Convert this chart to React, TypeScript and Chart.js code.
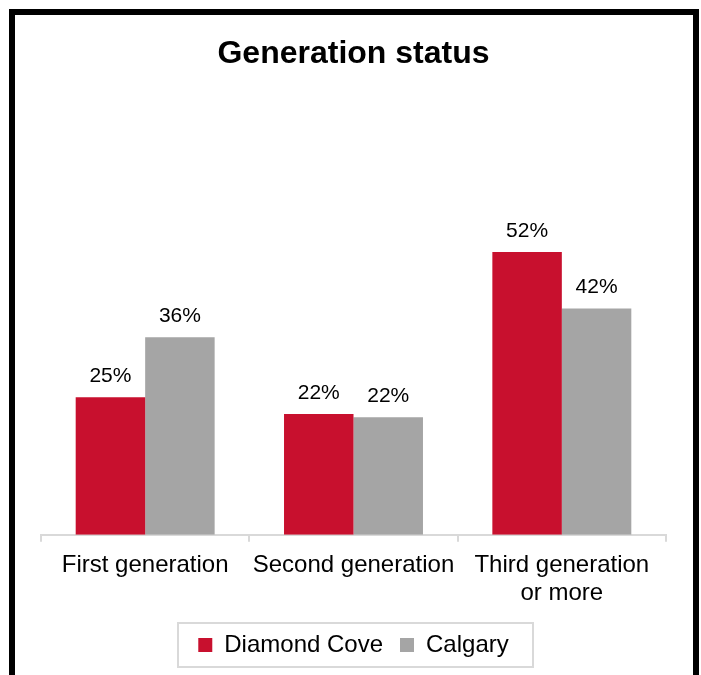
import React, { useEffect, useRef } from "react";
import { Chart, registerables } from "chart.js";

Chart.register(...registerables);

const chartTitle = "Generation status";
const categories: string[][] = [["First generation"], ["Second generation"], ["Third generation", "or more"]];
const seriesNames = ["Diamond Cove", "Calgary"];
const diamondCove = [25.3, 22.2, 52.0];
const calgary = [36.3, 21.6, 41.6];
const seriesColors = ["#C8102E", "#A5A5A5"];

const FONT = "Arial, 'Liberation Sans', Helvetica, sans-serif";

const dataLabelPlugin = {
  id: "dataLabels",
  afterDatasetsDraw(chart: any) {
    const ctx = chart.ctx;
    ctx.save();
    ctx.font = `21px ${FONT}`;
    ctx.fillStyle = "#000";
    ctx.textAlign = "center";
    ctx.textBaseline = "middle";
    chart.data.datasets.forEach((ds: any, di: number) => {
      const meta = chart.getDatasetMeta(di);
      meta.data.forEach((el: any, i: number) => {
        const v = ds.data[i];
        ctx.fillText(Math.round(v) + "%", el.x, el.y - 21);
      });
    });
    ctx.restore();
  },
};

const legendBoxPlugin = {
  id: "legendBox",
  afterDraw(chart: any) {
    const lg = chart.legend;
    if (!lg || !lg.legendHitBoxes || !lg.legendHitBoxes.length) return;
    const boxes = lg.legendHitBoxes;
    const left = Math.min(...boxes.map((b: any) => b.left)) - 20;
    const right = Math.max(...boxes.map((b: any) => b.left + b.width)) + 25;
    const cy = boxes[0].top + boxes[0].height / 2;
    const ctx = chart.ctx;
    ctx.save();
    ctx.strokeStyle = "#D9D9D9";
    ctx.lineWidth = 2;
    ctx.strokeRect(Math.round(left), Math.round(cy - 22), Math.round(right - left), 44);
    ctx.restore();
  },
};

export default function App() {
  const ref = useRef<HTMLCanvasElement | null>(null);

  useEffect(() => {
    if (!ref.current) return;
    const chart = new Chart(ref.current, {
      type: "bar",
      data: {
        labels: categories,
        datasets: [
          {
            label: seriesNames[0],
            data: diamondCove,
            backgroundColor: seriesColors[0],
            borderWidth: 0,
            categoryPercentage: 0.667,
            barPercentage: 1,
          },
          {
            label: seriesNames[1],
            data: calgary,
            backgroundColor: seriesColors[1],
            borderWidth: 0,
            categoryPercentage: 0.667,
            barPercentage: 1,
          },
        ],
      },
      options: {
        responsive: false,
        animation: false,
        devicePixelRatio: 1,
        layout: { padding: { left: 26, right: 27, top: 0, bottom: 8 } },
        plugins: {
          title: {
            display: true,
            text: chartTitle,
            color: "#000",
            font: { family: FONT, size: 32, weight: "bold" },
            padding: { top: 20, bottom: 135 },
          },
          legend: {
            position: "bottom",
            labels: {
              boxWidth: 14,
              boxHeight: 14,
              padding: 17,
              color: "#000",
              font: { family: FONT, size: 24 },
            },
          },
          tooltip: { enabled: false },
        },
        scales: {
          x: {
            grid: {
              display: true,
              drawOnChartArea: false,
              offset: true,
              color: "#D9D9D9",
              lineWidth: 2,
              tickLength: 7,
            },
            border: { display: true, color: "#D9D9D9", width: 2 },
            ticks: {
              color: "#000",
              padding: 9,
              maxRotation: 0,
              autoSkip: false,
              font: { family: FONT, size: 24, lineHeight: 1.17 },
            },
          },
          y: {
            display: false,
            min: 0,
            max: 60,
          },
        },
      },
      plugins: [dataLabelPlugin, legendBoxPlugin],
    });
    return () => chart.destroy();
  }, []);

  return (
    <div
      style={{
        position: "fixed",
        left: 9,
        top: 9,
        width: 690,
        height: 720,
        border: "6px solid #000",
        boxSizing: "border-box",
        background: "#fff",
      }}
    >
      <canvas
        ref={ref}
        width={678}
        height={660}
        style={{ position: "absolute", left: 0, top: 0, width: 678, height: 660 }}
      />
    </div>
  );
}
